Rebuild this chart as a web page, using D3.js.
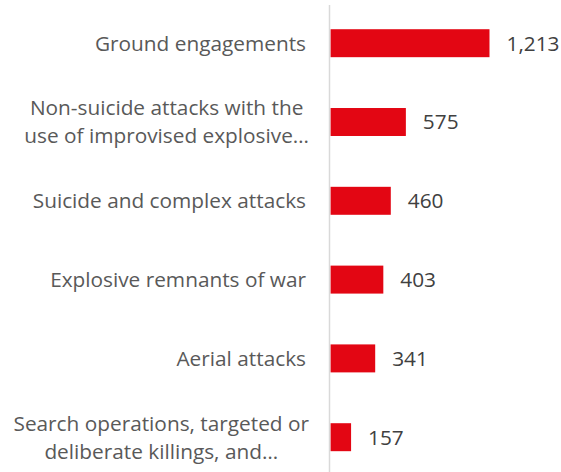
<!DOCTYPE html>
<html>
<head>
<meta charset="utf-8">
<script src="https://cdn.jsdelivr.net/npm/d3@7"></script>
<style>
  html, body { margin: 0; padding: 0; background: #fff; }
  svg { display: block; font-family: "Open Sans", "Noto Sans", sans-serif; }
</style>
</head>
<body>
<svg id="chart" width="561" height="472"></svg>
<script>
/* Casualties by incident type: horizontal bars, values to the right. */
var categories = [
  ['Ground engagements'],
  ['Non-suicide attacks with the', 'use of improvised explosive\u2026'],
  ['Suicide and complex attacks'],
  ['Explosive remnants of war'],
  ['Aerial attacks'],
  ['Search operations, targeted or', 'deliberate killings, and\u2026']
];
var values = [1213, 575, 460, 403, 341, 157];
var valueLabels = ['1,213', '575', '460', '403', '341', '157'];

var CONFIG = {
  width: 561, height: 472,
  axisX: 330.5,
  labelRight: 306,
  fontSize: 20.8,
  lineGap: 28,
  bar: '#e30613',
  axis: '#d9d9d9',
  labelColor: '#595959',
  valueColor: '#404040'
};

(function () {
  var svg = d3.select('#chart');
  var ids = d3.range(categories.length);

  var x = d3.scaleLinear().domain([0, 1400]).range([CONFIG.axisX, 514]);
  var y = d3.scaleBand().domain(ids).range([4, 476.4])
    .paddingInner(0.645).paddingOuter(0.32);

  // bars
  svg.selectAll('rect.bar').data(ids).enter().append('rect')
    .attr('class', 'bar')
    .attr('x', x(0))
    .attr('y', function (i) { return y(i); })
    .attr('width', function (i) { return x(values[i]) - x(0); })
    .attr('height', y.bandwidth())
    .attr('fill', CONFIG.bar);

  // vertical category axis line
  svg.append('line')
    .attr('x1', CONFIG.axisX - 1).attr('x2', CONFIG.axisX - 1)
    .attr('y1', 5).attr('y2', CONFIG.height)
    .attr('stroke', CONFIG.axis).attr('stroke-width', 1.5);

  // value labels
  svg.selectAll('text.val').data(ids).enter().append('text')
    .attr('class', 'val')
    .attr('x', function (i) { return x(values[i]) + 17; })
    .attr('y', function (i) { return y(i) + y.bandwidth() / 2; })
    .attr('dy', '0.36em')
    .attr('font-size', CONFIG.fontSize)
    .attr('fill', CONFIG.valueColor)
    .text(function (i) { return valueLabels[i]; });

  // category labels: wrapped lines centred on each other, block right-aligned
  ids.forEach(function (i) {
    var lines = categories[i];
    var cy = y(i) + y.bandwidth() / 2;
    var g = svg.append('g');
    var texts = lines.map(function (ln, k) {
      return g.append('text')
        .attr('y', cy + (k - (lines.length - 1) / 2) * CONFIG.lineGap)
        .attr('dy', '0.36em')
        .attr('font-size', CONFIG.fontSize)
        .attr('fill', CONFIG.labelColor)
        .text(ln);
    });
    if (lines.length === 1) {
      texts[0].attr('x', CONFIG.labelRight).attr('text-anchor', 'end');
    } else {
      var maxW = d3.max(texts, function (t) { return t.node().getComputedTextLength(); });
      var cx = CONFIG.labelRight - maxW / 2 + 3;
      texts.forEach(function (t) { t.attr('x', cx).attr('text-anchor', 'middle'); });
    }
  });
})();
</script>
</body>
</html>
